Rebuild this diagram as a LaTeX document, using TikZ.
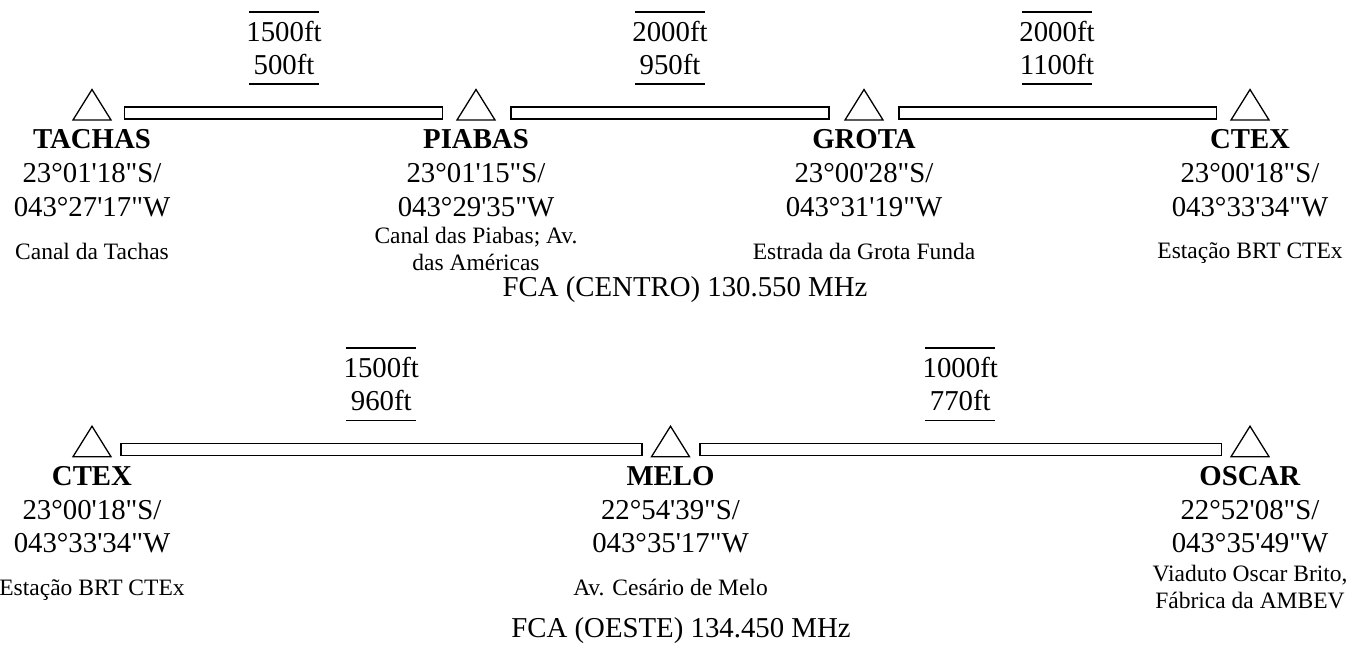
\documentclass[tikz,border=0pt]{standalone}
\usepackage{fontspec}
\setmainfont{Liberation Serif}[Ligatures=TeXOff]
\usetikzlibrary{calc}

\begin{document}
\begin{tikzpicture}[x=0.5pt, y=-0.5pt,
  tri/.style={line width=0.65pt},
  bar/.style={line width=0.65pt},
  rule/.style={line width=0.7pt},
  stn/.style={anchor=north, align=center, inner sep=0pt, font=\fontsize{14.4}{16.8}\selectfont},
  desc/.style={align=center, inner sep=0pt, text depth=0pt, font=\fontsize{11.75}{13.4}\selectfont},
  dist/.style={align=center, inner xsep=-1.6pt, inner ysep=4.5pt, font=\fontsize{14.4}{16.5}\selectfont},
  freq/.style={anchor=base, inner sep=0pt, font=\fontsize{14.4}{16.5}\selectfont}]
\useasboundingbox (0,0) rectangle (1347,644);

% centro
\coordinate (tachas) at (92,120);
\coordinate (piabas) at (476,120);
\coordinate (grota) at (864,120);
\coordinate (ctexA) at (1250,120);
\draw[tri] (tachas) ++(-19,0) -- ++(19,-30.5) -- ++(19,30.5) -- cycle;
\draw[tri] (piabas) ++(-19,0) -- ++(19,-30.5) -- ++(19,30.5) -- cycle;
\draw[tri] (grota) ++(-19,0) -- ++(19,-30.5) -- ++(19,30.5) -- cycle;
\draw[tri] (ctexA) ++(-19,0) -- ++(19,-30.5) -- ++(19,30.5) -- cycle;
\draw[bar] ($(tachas)+(32.5,-1)$) rectangle ($(piabas)+(-33.5,-13)$);
\draw[bar] ($(piabas)+(35,-1)$) rectangle ($(grota)+(-35,-13)$);
\draw[bar] ($(grota)+(35,-1)$) rectangle ($(ctexA)+(-33.5,-13)$);
\node[stn] (tachasN) at ($(tachas)+(0,9.5)$) {\textbf{TACHAS}\\23°01'18"S/\\043°27'17"W};
\node[stn] (piabasN) at ($(piabas)+(0,9.5)$) {\textbf{PIABAS}\\23°01'15"S/\\043°29'35"W};
\node[stn] (grotaN) at ($(grota)+(0,9.5)$) {\textbf{GROTA}\\23°00'28"S/\\043°31'19"W};
\node[stn] (ctexAN) at ($(ctexA)+(0,9.5)$) {\textbf{CTEX}\\23°00'18"S/\\043°33'34"W};
\node[desc] (tachasD) at ($(tachas)+(0,131)$) {Canal da Tachas};
\node[desc] (piabasD) at ($(piabas)+(0,129)$) {Canal das Piabas; Av.\\das Américas};
\node[desc] (grotaD) at ($(grota)+(0,131)$) {Estrada da Grota Funda};
\node[desc] (ctexAD) at ($(ctexA)+(0,131)$) {Estação BRT CTEx};
\node[dist] (d1) at ($(tachas)!0.5!(piabas)+(0,-72)$) {1500ft\\500ft};
\node[dist] (d2) at ($(piabas)!0.5!(grota)+(0,-72)$) {2000ft\\950ft};
\node[dist] (d3) at ($(grota)!0.5!(ctexA)+(0,-72)$) {2000ft\\1100ft};
\draw[rule] (d1.north west) -- (d1.north east);
\draw[rule] (d1.south west) -- (d1.south east);
\draw[rule] (d2.north west) -- (d2.north east);
\draw[rule] (d2.south west) -- (d2.south east);
\draw[rule] (d3.north west) -- (d3.north east);
\draw[rule] (d3.south west) -- (d3.south east);
\node[freq] (fcaC) at (685,296) {FCA (CENTRO) 130.550 MHz};

% oeste
\coordinate (ctexB) at (92,456.7);
\coordinate (melo) at (670.5,456.7);
\coordinate (oscar) at (1250,456.7);
\draw[tri] (ctexB) ++(-19,0) -- ++(19,-30.5) -- ++(19,30.5) -- cycle;
\draw[tri] (melo) ++(-19,0) -- ++(19,-30.5) -- ++(19,30.5) -- cycle;
\draw[tri] (oscar) ++(-19,0) -- ++(19,-30.5) -- ++(19,30.5) -- cycle;
\draw[bar] ($(ctexB)+(29,-1)$) rectangle ($(melo)+(-28.5,-13)$);
\draw[bar] ($(melo)+(29.5,-1)$) rectangle ($(oscar)+(-28.5,-13)$);
\node[stn] (ctexBN) at ($(ctexB)+(0,9.5)$) {\textbf{CTEX}\\23°00'18"S/\\043°33'34"W};
\node[stn] (meloN) at ($(melo)+(0,9.5)$) {\textbf{MELO}\\22°54'39"S/\\043°35'17"W};
\node[stn] (oscarN) at ($(oscar)+(0,9.5)$) {\textbf{OSCAR}\\22°52'08"S/\\043°35'49"W};
\node[desc] (ctexBD) at ($(ctexB)+(0,131)$) {Estação BRT CTEx};
\node[desc] (meloD) at ($(melo)+(0,131)$) {Av. Cesário de Melo};
\node[desc] (oscarD) at ($(oscar)+(0,130)$) {Viaduto Oscar Brito,\\Fábrica da AMBEV};
\node[dist] (d4) at ($(ctexB)!0.5!(melo)+(0,-72.5)$) {1500ft\\960ft};
\node[dist] (d5) at ($(melo)!0.5!(oscar)+(0,-72.5)$) {1000ft\\770ft};
\draw[rule] (d4.north west) -- (d4.north east);
\draw[rule] (d4.south west) -- (d4.south east);
\draw[rule] (d5.north west) -- (d5.north east);
\draw[rule] (d5.south west) -- (d5.south east);
\node[freq] (fcaO) at (681,637.3) {FCA (OESTE) 134.450 MHz};
\end{tikzpicture}
\end{document}
